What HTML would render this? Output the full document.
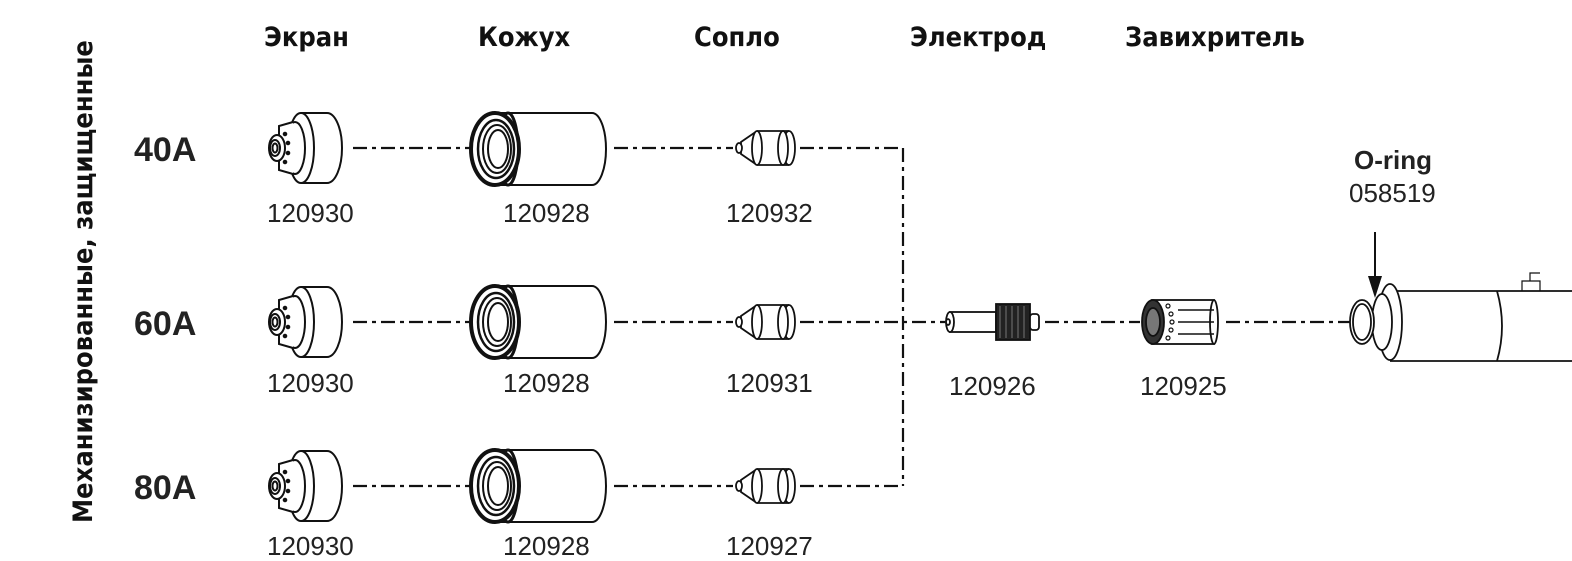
<!DOCTYPE html>
<html><head><meta charset="utf-8"><style>
html,body{margin:0;padding:0;background:#fff;}
svg{display:block;}
.h{font-family:"DejaVu Sans Condensed","Liberation Sans Narrow","Liberation Sans",sans-serif;font-weight:bold;font-size:27px;fill:#111;}
.n{font-family:"Liberation Sans",sans-serif;font-size:26px;fill:#222;}
.r{font-family:"Liberation Sans",sans-serif;font-weight:bold;font-size:34px;fill:#222;}
.dl{stroke:#111;stroke-width:2.2;stroke-dasharray:14 5 4 5;fill:none;}
</style></head><body>
<svg width="1572" height="561" viewBox="0 0 1572 561" xmlns="http://www.w3.org/2000/svg">
<defs>
<g id="shield" stroke="#111" stroke-width="2" fill="#fff">
<ellipse cx="62" cy="0" rx="15" ry="35"/>
<rect x="36" y="-35" width="26" height="70" stroke="none"/>
<line x1="36" y1="-35" x2="62" y2="-35"/><line x1="36" y1="35" x2="62" y2="35"/>
<ellipse cx="36" cy="0" rx="13" ry="35"/>
<ellipse cx="30" cy="0" rx="10" ry="26"/>
<path d="M28,-26 L14,-22 L14,22 L28,26"/>
<ellipse cx="12" cy="0" rx="8" ry="13"/>
<ellipse cx="10" cy="0" rx="5" ry="8"/>
<ellipse cx="10" cy="0" rx="2.5" ry="4.5"/>
<circle cx="20" cy="-14" r="1.3" fill="#111"/><circle cx="23" cy="-5" r="1.3" fill="#111"/>
<circle cx="23" cy="5" r="1.3" fill="#111"/><circle cx="20" cy="14" r="1.3" fill="#111"/>
</g>
<g id="cap" stroke="#111" stroke-width="2" fill="#fff">
<ellipse cx="122" cy="0" rx="14" ry="36"/>
<rect x="25" y="-36" width="97" height="72" stroke="none"/>
<line x1="25" y1="-36" x2="122" y2="-36"/><line x1="25" y1="36" x2="122" y2="36"/>
<ellipse cx="38" cy="0" rx="10" ry="36" stroke-width="3"/>
<ellipse cx="25" cy="0" rx="24" ry="36" stroke-width="4"/>
<ellipse cx="26" cy="0" rx="18" ry="29" stroke-width="2.5"/>
<ellipse cx="27" cy="0" rx="14" ry="24"/>
<ellipse cx="28" cy="0" rx="10" ry="19"/>
</g>
<g id="noz" stroke="#111" stroke-width="1.8" fill="#fff">
<rect x="24" y="-17" width="32" height="34" stroke="none"/>
<line x1="24" y1="-17" x2="56" y2="-17"/><line x1="24" y1="17" x2="56" y2="17"/>
<ellipse cx="56" cy="0" rx="6" ry="17"/>
<ellipse cx="50" cy="0" rx="5" ry="17"/>
<path d="M24,-17 L8,-6 L8,6 L24,17"/>
<ellipse cx="24" cy="0" rx="5" ry="17"/>
<ellipse cx="6" cy="0" rx="3" ry="5"/>
</g>
</defs>

<text class="h" x="264" y="46">Экран</text>
<text class="h" x="478" y="46">Кожух</text>
<text class="h" x="694" y="46">Сопло</text>
<text class="h" x="910" y="46">Электрод</text>
<text class="h" x="1125" y="46">Завихритель</text>

<text class="h" transform="translate(92,523) rotate(-90)" x="0" y="0">Механизированные, защищенные</text>

<text class="r" x="134" y="161">40A</text>
<text class="r" x="134" y="335">60A</text>
<text class="r" x="134" y="499">80A</text>

<g>
<use href="#shield" x="265" y="148"/><use href="#cap" x="470" y="149"/><use href="#noz" x="733" y="148"/>
<line class="dl" x1="353" y1="148" x2="470" y2="148"/>
<line class="dl" x1="614" y1="148" x2="733" y2="148"/>
<line class="dl" x1="800" y1="148" x2="903" y2="148"/>
<text class="n" x="267" y="222">120930</text><text class="n" x="503" y="222">120928</text><text class="n" x="726" y="222">120932</text>
</g>
<g>
<use href="#shield" x="265" y="322"/><use href="#cap" x="470" y="322"/><use href="#noz" x="733" y="322"/>
<line class="dl" x1="353" y1="322" x2="470" y2="322"/>
<line class="dl" x1="614" y1="322" x2="733" y2="322"/>
<line class="dl" x1="800" y1="322" x2="945" y2="322"/>
<text class="n" x="267" y="392">120930</text><text class="n" x="503" y="392">120928</text><text class="n" x="726" y="392">120931</text>
</g>
<g>
<use href="#shield" x="265" y="486"/><use href="#cap" x="470" y="486"/><use href="#noz" x="733" y="486"/>
<line class="dl" x1="353" y1="486" x2="470" y2="486"/>
<line class="dl" x1="614" y1="486" x2="733" y2="486"/>
<line class="dl" x1="800" y1="486" x2="903" y2="486"/>
<text class="n" x="267" y="555">120930</text><text class="n" x="503" y="555">120928</text><text class="n" x="726" y="555">120927</text>
</g>
<line class="dl" x1="903" y1="148" x2="903" y2="486"/>

<g stroke="#111" stroke-width="1.8" fill="#fff">
<rect x="950" y="312" width="46" height="20"/>
<ellipse cx="950" cy="322" rx="4" ry="10"/>
<ellipse cx="948" cy="322" rx="2" ry="3"/>
<rect x="996" y="304" width="34" height="36" fill="#222"/>
<path d="M1000,306 v32 M1006,306 v32 M1012,306 v32 M1018,306 v32 M1024,306 v32" stroke="#777" stroke-width="1"/>
<rect x="1030" y="314" width="9" height="16" rx="3"/>
</g>
<text class="n" x="949" y="395">120926</text>
<line class="dl" x1="1045" y1="322" x2="1140" y2="322"/>

<g stroke="#111" stroke-width="1.8" fill="#fff">
<rect x="1152" y="300" width="62" height="44"/>
<ellipse cx="1214" cy="322" rx="4" ry="22"/>
<path d="M1178,310 h36 M1178,322 h36 M1178,334 h36" stroke-width="1.5"/>
<ellipse cx="1153" cy="322" rx="11" ry="22" fill="#333"/>
<ellipse cx="1153" cy="322" rx="7" ry="14" fill="#777"/>
<g fill="#fff" stroke-width="1.2"><circle cx="1168" cy="306" r="2"/><circle cx="1171" cy="314" r="2"/><circle cx="1172" cy="322" r="2"/><circle cx="1171" cy="330" r="2"/><circle cx="1168" cy="338" r="2"/></g>
</g>
<text class="n" x="1140" y="395">120925</text>
<line class="dl" x1="1226" y1="322" x2="1352" y2="322"/>

<g stroke="#111" stroke-width="1.8" fill="#fff">
<rect x="1390" y="291" width="182" height="70" stroke="none"/>
<path d="M1390,291 H1572 M1390,361 H1572"/>
<path d="M1497,291 q10,35 0,70" fill="none"/>
<ellipse cx="1390" cy="322" rx="12" ry="38"/>
<ellipse cx="1382" cy="322" rx="10" ry="28"/>
<ellipse cx="1362" cy="322" rx="12" ry="22"/>
<ellipse cx="1362" cy="322" rx="9" ry="18"/>
<path d="M1522,291 v-10 h18 v10 M1530,281 v-8 h10" fill="none" stroke-width="1.2"/>
</g>
<text x="1354" y="169" style="font-family:'Liberation Sans',sans-serif;font-weight:bold;font-size:26px;fill:#222">O-ring</text>
<text class="n" x="1349" y="202">058519</text>
<line x1="1375" y1="232" x2="1375" y2="280" stroke="#111" stroke-width="2"/>
<path d="M1368,276 L1382,276 L1375,298 Z" fill="#111"/>
</svg>
</body></html>
